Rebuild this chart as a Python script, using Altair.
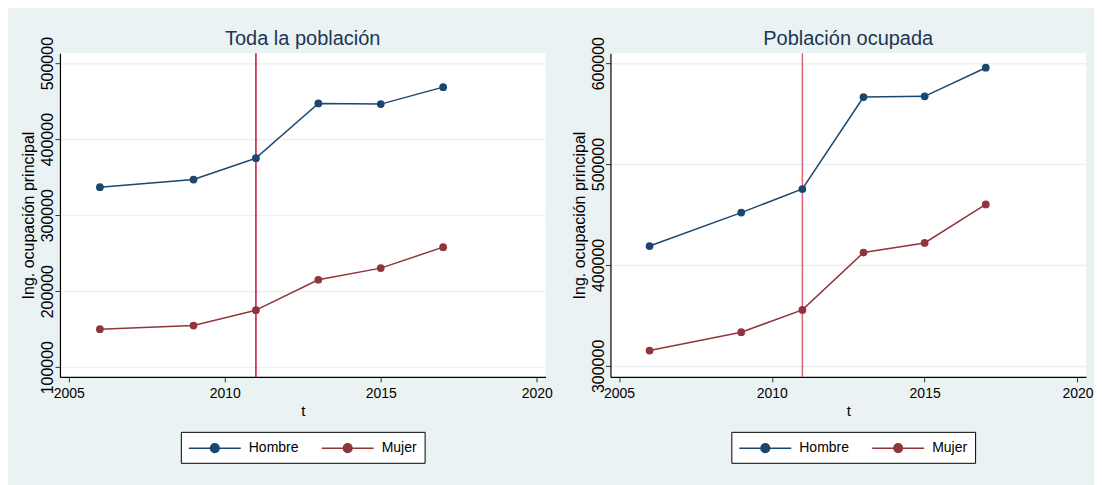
import altair as alt
import pandas as pd

# ---- data ----
years = [2006, 2009, 2011, 2013, 2015, 2017]
groups = ["Hombre", "Mujer"]
total_hombre = [336800, 346800, 375000, 447000, 446100, 468400]
total_mujer = [150000, 154700, 175000, 215000, 230300, 257900]
ocup_hombre = [418800, 451900, 475300, 566400, 567100, 595500]
ocup_mujer = [315200, 333400, 355500, 412300, 421800, 460000]
break_year = [2011]
x_ticks = [2005, 2010, 2015, 2020]
y_ticks_total = [100000, 200000, 300000, 400000, 500000]
y_ticks_ocup = [300000, 400000, 500000, 600000]
panel_titles = ["Toda la población", "Población ocupada"]
y_title = "Ing. ocupación principal"
x_title = "t"

colors = ["#1A476F", "#90353B"]
rule_colors = ["#C8103A", "#DC6478"]
BG = "#EAF2F3"
FONT = "Liberation Sans"
# legend key: a 52px line with a dot in the middle (units of 8px, centre at +8px)
SYMBOL = ("M-1,0H5.5M1.71,0A0.54,0.54,0,1,1,2.79,0"
          "A0.54,0.54,0,1,1,1.71,0Z")


def long_df(h, m):
    rows = []
    for g, vals in zip(groups, [h, m]):
        for yr, v in zip(years, vals):
            rows.append({"t": yr, "valor": v, "sexo": g})
    return pd.DataFrame(rows)


def panel(df, title, yticks, ydom, rule_color, width, legend_x):
    xs = alt.Scale(domain=[2004.72, 2020.28], nice=False, zero=False)
    ys = alt.Scale(domain=ydom, nice=False, zero=False)
    xaxis = alt.Axis(values=x_ticks, format="d", grid=False, title=x_title,
                     domainColor="#000000", domainWidth=1.2, tickColor="#333333",
                     tickSize=5, labelFont=FONT, labelFontSize=14, labelColor="#000000",
                     labelPadding=5, titleFont=FONT, titleFontSize=15,
                     titleFontWeight="normal", titleColor="#000000", titlePadding=3)
    yaxis = alt.Axis(values=yticks, format="d", grid=True, gridColor=BG, gridWidth=1.5,
                     title=y_title, domainColor="#000000", domainWidth=1.2,
                     tickColor="#333333", tickSize=5, labelAngle=270,
                     labelAlign="center", labelBaseline="alphabetic", labelPadding=2,
                     labelFont=FONT, labelFontSize=16, labelColor="#000000",
                     titleFont=FONT, titleFontSize=16, titleFontWeight="normal",
                     titleColor="#000000", titlePadding=3)
    leg = alt.Legend(title=None, orient="none", legendX=legend_x, legendY=379,
                     direction="horizontal", symbolType=SYMBOL, symbolSize=256,
                     symbolStrokeWidth=1.5, labelFont=FONT, labelFontSize=14,
                     labelColor="#000000", labelOffset=43, columnPadding=20,
                     padding=7, fillColor="white", strokeColor="#000000")
    cscale = alt.Scale(domain=groups, range=colors)
    base = alt.Chart(df).encode(
        x=alt.X("t:Q", scale=xs, axis=xaxis),
        y=alt.Y("valor:Q", scale=ys, axis=yaxis),
    )
    line = base.mark_line(strokeWidth=1.5, point=alt.OverlayMarkDef(
        filled=True, size=60)).encode(
        color=alt.Color("sexo:N", scale=cscale, legend=leg))
    rule = alt.Chart(pd.DataFrame({"t": break_year})).mark_rule(
        color=rule_color, strokeWidth=1.5).encode(x=alt.X("t:Q", scale=xs))
    return alt.layer(rule, line).properties(
        width=width, height=324,
        title=alt.Title(title, font=FONT, fontSize=20, fontWeight="normal",
                        color="#1E3556", anchor="middle", offset=-13))


left = panel(long_df(total_hombre, total_mujer), panel_titles[0], y_ticks_total,
             [87200, 513100], rule_colors[0], 486, 121)
right = panel(long_df(ocup_hombre, ocup_mujer), panel_titles[1], y_ticks_ocup,
              [289100, 609900], rule_colors[1], 476, 121)

chart = alt.hconcat(left, right, spacing=19).resolve_scale(
    color="independent", x="independent", y="independent"
).resolve_legend(color="independent").configure(
    background=BG, padding={"left": 13, "top": 21, "right": 0, "bottom": 21}
).configure_view(fill="white", stroke=None)

chart.save("out.html", embed_options={"renderer": "svg", "actions": False})
